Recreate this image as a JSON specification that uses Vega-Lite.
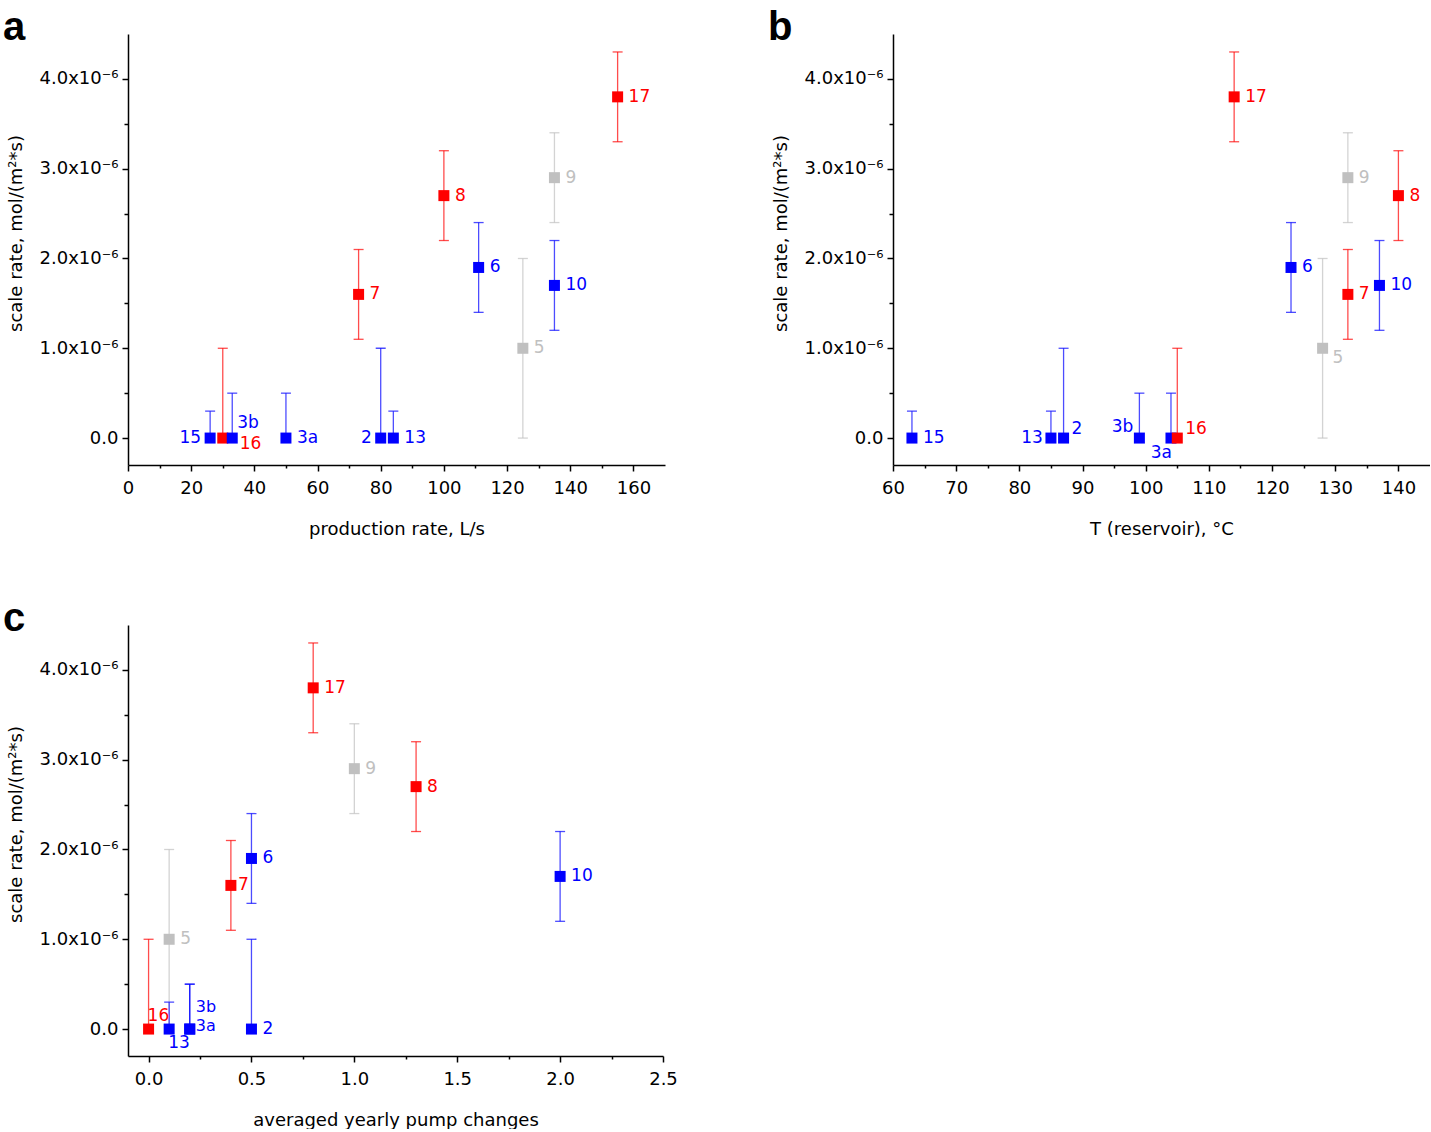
{
  "$schema": "https://vega.github.io/schema/vega-lite/v6.json",
  "padding": {"left": 3, "top": 8, "right": 0, "bottom": 0},
  "background": "white",
  "config": {
    "view": {"stroke": null},
    "font": "DejaVu Sans",
    "axis": {"grid": false, "domainColor": "black", "domainWidth": 1.5, "tickColor": "black", "tickWidth": 1.5, "tickSize": 6, "labelFont": "DejaVu Sans", "titleFont": "DejaVu Sans", "labelFontSize": 18, "titleFontSize": 18, "titleFontWeight": "normal", "labelColor": "black", "titleColor": "black", "labelPadding": 4, "labelFlush": false, "labelOverlap": false},
    "axisX": {"titlePadding": 23, "labelPadding": 8},
    "axisY": {"titlePadding": 14, "titleY": 199},
    "title": {"font": "Liberation Sans", "fontSize": 40, "fontWeight": "bold", "color": "black", "anchor": "start", "frame": "bounds", "offset": -14, "dx": -4}
  },
  "datasets": {
    "a": [
      {"id": "15", "x": 26, "y": 0, "lo": 0, "hi": 3e-7, "cls": "blue"},
      {"id": "16", "x": 30, "y": 0, "lo": 0, "hi": 1e-6, "cls": "red"},
      {"id": "3b", "x": 33, "y": 0, "lo": 0, "hi": 5e-7, "cls": "blue"},
      {"id": "3a", "x": 50, "y": 0, "lo": 0, "hi": 5e-7, "cls": "blue"},
      {"id": "2", "x": 80, "y": 0, "lo": 0, "hi": 1e-6, "cls": "blue"},
      {"id": "13", "x": 84, "y": 0, "lo": 0, "hi": 3e-7, "cls": "blue"},
      {"id": "7", "x": 73, "y": 1.6e-6, "lo": 1.1e-6, "hi": 2.1e-6, "cls": "red"},
      {"id": "8", "x": 100, "y": 2.7e-6, "lo": 2.2e-6, "hi": 3.2e-6, "cls": "red"},
      {"id": "6", "x": 111, "y": 1.9e-6, "lo": 1.4e-6, "hi": 2.4e-6, "cls": "blue"},
      {"id": "5", "x": 125, "y": 1.0e-6, "lo": 0, "hi": 2.0e-6, "cls": "grey"},
      {"id": "10", "x": 135, "y": 1.7e-6, "lo": 1.2e-6, "hi": 2.2e-6, "cls": "blue"},
      {"id": "9", "x": 135, "y": 2.9e-6, "lo": 2.4e-6, "hi": 3.4e-6, "cls": "grey"},
      {"id": "17", "x": 155, "y": 3.8e-6, "lo": 3.3e-6, "hi": 4.3e-6, "cls": "red"}
    ],
    "b": [
      {"id": "15", "x": 63, "y": 0, "lo": 0, "hi": 3e-7, "cls": "blue"},
      {"id": "13", "x": 85, "y": 0, "lo": 0, "hi": 3e-7, "cls": "blue"},
      {"id": "2", "x": 87, "y": 0, "lo": 0, "hi": 1e-6, "cls": "blue"},
      {"id": "3b", "x": 99, "y": 0, "lo": 0, "hi": 5e-7, "cls": "blue"},
      {"id": "3a", "x": 104, "y": 0, "lo": 0, "hi": 5e-7, "cls": "blue"},
      {"id": "16", "x": 105, "y": 0, "lo": 0, "hi": 1e-6, "cls": "red"},
      {"id": "17", "x": 114, "y": 3.8e-6, "lo": 3.3e-6, "hi": 4.3e-6, "cls": "red"},
      {"id": "6", "x": 123, "y": 1.9e-6, "lo": 1.4e-6, "hi": 2.4e-6, "cls": "blue"},
      {"id": "5", "x": 128, "y": 1.0e-6, "lo": 0, "hi": 2.0e-6, "cls": "grey"},
      {"id": "9", "x": 132, "y": 2.9e-6, "lo": 2.4e-6, "hi": 3.4e-6, "cls": "grey"},
      {"id": "7", "x": 132, "y": 1.6e-6, "lo": 1.1e-6, "hi": 2.1e-6, "cls": "red"},
      {"id": "10", "x": 137, "y": 1.7e-6, "lo": 1.2e-6, "hi": 2.2e-6, "cls": "blue"},
      {"id": "8", "x": 140, "y": 2.7e-6, "lo": 2.2e-6, "hi": 3.2e-6, "cls": "red"}
    ],
    "c": [
      {"id": "5", "x": 0.1, "y": 1.0e-6, "lo": 0, "hi": 2.0e-6, "cls": "grey"},
      {"id": "16", "x": 0.0, "y": 0, "lo": 0, "hi": 1e-6, "cls": "red"},
      {"id": "13", "x": 0.1, "y": 0, "lo": 0, "hi": 3e-7, "cls": "blue"},
      {"id": "3a", "x": 0.2, "y": 0, "lo": 0, "hi": 5e-7, "cls": "blue"},
      {"id": "3b", "x": 0.2, "y": 0, "lo": 0, "hi": 5e-7, "cls": "blue"},
      {"id": "2", "x": 0.5, "y": 0, "lo": 0, "hi": 1e-6, "cls": "blue"},
      {"id": "6", "x": 0.5, "y": 1.9e-6, "lo": 1.4e-6, "hi": 2.4e-6, "cls": "blue"},
      {"id": "7", "x": 0.4, "y": 1.6e-6, "lo": 1.1e-6, "hi": 2.1e-6, "cls": "red"},
      {"id": "17", "x": 0.8, "y": 3.8e-6, "lo": 3.3e-6, "hi": 4.3e-6, "cls": "red"},
      {"id": "9", "x": 1.0, "y": 2.9e-6, "lo": 2.4e-6, "hi": 3.4e-6, "cls": "grey"},
      {"id": "8", "x": 1.3, "y": 2.7e-6, "lo": 2.2e-6, "hi": 3.2e-6, "cls": "red"},
      {"id": "10", "x": 2.0, "y": 1.7e-6, "lo": 1.2e-6, "hi": 2.2e-6, "cls": "blue"}
    ]
  },
  "spacing": 61,
  "vconcat": [
    {
      "spacing": 103,
      "hconcat": [
        {
          "width": 537, "height": 431,
          "title": {"text": "a"},
          "data": {"name": "a"},
          "encoding": {
            "x": {"field": "x", "type": "quantitative", "scale": {"domain": [0, 170], "nice": false, "zero": false}, "axis": {"title": "production rate, L/s", "values": [0, 10, 20, 30, 40, 50, 60, 70, 80, 90, 100, 110, 120, 130, 140, 150, 160], "labelExpr": "datum.value % 20 == 0 ? format(datum.value, 'd') : ''", "tickSize": {"condition": {"test": "datum.value % 20 == 0", "value": 6}, "value": 3}}},
            "color": {"field": "cls", "type": "nominal", "scale": {"domain": ["red", "blue", "grey"], "range": ["#FF0000", "#0000FF", "#C0C0C0"]}, "legend": null}
          },
          "layer": [
            {"mark": {"type": "rule", "strokeWidth": 1.3, "opacity": 0.7}, "encoding": {"y": {"field": "lo", "type": "quantitative", "scale": {"domain": [-3e-7, 4.5e-6], "nice": false, "zero": false}, "axis": {"title": "scale rate, mol/(m²*s)", "values": [0, 5e-7, 1e-6, 1.5e-6, 2e-6, 2.5e-6, 3e-6, 3.5e-6, 4e-6], "labelExpr": "abs(datum.value*1e6 - round(datum.value*1e6)) > 0.01 ? '' : (abs(datum.value) < 1e-12 ? '0.0' : format(datum.value*1e6, '.1f') + 'x10⁻⁶')", "tickSize": {"condition": {"test": "abs(datum.value*1e6 - round(datum.value*1e6)) > 0.01", "value": 4}, "value": 6}}}, "y2": {"field": "hi"}}},
            {"mark": {"type": "tick", "orient": "horizontal", "size": 10, "thickness": 1.3, "opacity": 0.7}, "encoding": {"y": {"field": "hi", "type": "quantitative"}}},
            {"transform": [{"filter": "datum.y > 0"}], "mark": {"type": "tick", "orient": "horizontal", "size": 10, "thickness": 1.3, "opacity": 0.7}, "encoding": {"y": {"field": "lo", "type": "quantitative"}}},
            {"mark": {"type": "square", "filled": true, "size": 121, "opacity": 1}, "encoding": {"y": {"field": "y", "type": "quantitative"}}},
            {"transform": [{"filter": {"field": "id", "oneOf": ["3a", "13", "7", "8", "6", "5", "10", "9", "17"]}}], "mark": {"type": "text", "align": "left", "baseline": "middle", "dx": 11, "fontSize": 17}, "encoding": {"y": {"field": "y", "type": "quantitative"}, "text": {"field": "id"}}},
            {"transform": [{"filter": {"field": "id", "oneOf": ["15", "2"]}}], "mark": {"type": "text", "align": "right", "baseline": "middle", "dx": -9, "fontSize": 17}, "encoding": {"y": {"field": "y", "type": "quantitative"}, "text": {"field": "id"}}},
            {"transform": [{"filter": {"field": "id", "oneOf": ["16"]}}], "mark": {"type": "text", "align": "left", "baseline": "middle", "dx": 17, "dy": 6, "fontSize": 17}, "encoding": {"y": {"field": "y", "type": "quantitative"}, "text": {"field": "id"}}},
            {"transform": [{"filter": {"field": "id", "oneOf": ["3b"]}}], "mark": {"type": "text", "align": "left", "baseline": "middle", "dx": 5, "dy": -15, "fontSize": 17}, "encoding": {"y": {"field": "y", "type": "quantitative"}, "text": {"field": "id"}}}
          ]
        },
        {
          "width": 537, "height": 431,
          "title": {"text": "b"},
          "data": {"name": "b"},
          "encoding": {
            "x": {"field": "x", "type": "quantitative", "scale": {"domain": [60, 145], "nice": false, "zero": false}, "axis": {"title": "T (reservoir), °C", "values": [60, 65, 70, 75, 80, 85, 90, 95, 100, 105, 110, 115, 120, 125, 130, 135, 140], "labelExpr": "datum.value % 10 == 0 ? format(datum.value, 'd') : ''", "tickSize": {"condition": {"test": "datum.value % 10 == 0", "value": 6}, "value": 3}}},
            "color": {"field": "cls", "type": "nominal", "scale": {"domain": ["red", "blue", "grey"], "range": ["#FF0000", "#0000FF", "#C0C0C0"]}, "legend": null}
          },
          "layer": [
            {"mark": {"type": "rule", "strokeWidth": 1.3, "opacity": 0.7}, "encoding": {"y": {"field": "lo", "type": "quantitative", "scale": {"domain": [-3e-7, 4.5e-6], "nice": false, "zero": false}, "axis": {"title": "scale rate, mol/(m²*s)", "values": [0, 5e-7, 1e-6, 1.5e-6, 2e-6, 2.5e-6, 3e-6, 3.5e-6, 4e-6], "labelExpr": "abs(datum.value*1e6 - round(datum.value*1e6)) > 0.01 ? '' : (abs(datum.value) < 1e-12 ? '0.0' : format(datum.value*1e6, '.1f') + 'x10⁻⁶')", "tickSize": {"condition": {"test": "abs(datum.value*1e6 - round(datum.value*1e6)) > 0.01", "value": 4}, "value": 6}}}, "y2": {"field": "hi"}}},
            {"mark": {"type": "tick", "orient": "horizontal", "size": 10, "thickness": 1.3, "opacity": 0.7}, "encoding": {"y": {"field": "hi", "type": "quantitative"}}},
            {"transform": [{"filter": "datum.y > 0"}], "mark": {"type": "tick", "orient": "horizontal", "size": 10, "thickness": 1.3, "opacity": 0.7}, "encoding": {"y": {"field": "lo", "type": "quantitative"}}},
            {"mark": {"type": "square", "filled": true, "size": 121, "opacity": 1}, "encoding": {"y": {"field": "y", "type": "quantitative"}}},
            {"transform": [{"filter": {"field": "id", "oneOf": ["15", "17", "6", "9", "7", "10", "8"]}}], "mark": {"type": "text", "align": "left", "baseline": "middle", "dx": 11, "fontSize": 17}, "encoding": {"y": {"field": "y", "type": "quantitative"}, "text": {"field": "id"}}},
            {"transform": [{"filter": {"field": "id", "oneOf": ["13"]}}], "mark": {"type": "text", "align": "right", "baseline": "middle", "dx": -8, "fontSize": 17}, "encoding": {"y": {"field": "y", "type": "quantitative"}, "text": {"field": "id"}}},
            {"transform": [{"filter": {"field": "id", "oneOf": ["2", "16"]}}], "mark": {"type": "text", "align": "left", "baseline": "middle", "dx": 8, "dy": -9, "fontSize": 17}, "encoding": {"y": {"field": "y", "type": "quantitative"}, "text": {"field": "id"}}},
            {"transform": [{"filter": {"field": "id", "oneOf": ["3b"]}}], "mark": {"type": "text", "align": "right", "baseline": "middle", "dx": -6, "dy": -11, "fontSize": 17}, "encoding": {"y": {"field": "y", "type": "quantitative"}, "text": {"field": "id"}}},
            {"transform": [{"filter": {"field": "id", "oneOf": ["3a"]}}], "mark": {"type": "text", "align": "right", "baseline": "middle", "dx": 1, "dy": 15, "fontSize": 17}, "encoding": {"y": {"field": "y", "type": "quantitative"}, "text": {"field": "id"}}},
            {"transform": [{"filter": {"field": "id", "oneOf": ["5"]}}], "mark": {"type": "text", "align": "left", "baseline": "middle", "dx": 10, "dy": 10, "fontSize": 17}, "encoding": {"y": {"field": "y", "type": "quantitative"}, "text": {"field": "id"}}}
          ]
        }
      ]
    },
    {
      "width": 535, "height": 431,
      "title": {"text": "c"},
      "data": {"name": "c"},
      "encoding": {
        "x": {"field": "x", "type": "quantitative", "scale": {"domain": [-0.1, 2.5], "nice": false, "zero": false}, "axis": {"title": "averaged yearly pump changes", "values": [0, 0.25, 0.5, 0.75, 1, 1.25, 1.5, 1.75, 2, 2.25, 2.5], "labelExpr": "abs(datum.value*2 - round(datum.value*2)) > 0.01 ? '' : format(datum.value, '.1f')", "tickSize": {"condition": {"test": "abs(datum.value*2 - round(datum.value*2)) > 0.01", "value": 3}, "value": 6}}},
        "color": {"field": "cls", "type": "nominal", "scale": {"domain": ["red", "blue", "grey"], "range": ["#FF0000", "#0000FF", "#C0C0C0"]}, "legend": null}
      },
      "layer": [
        {"mark": {"type": "rule", "strokeWidth": 1.3, "opacity": 0.7}, "encoding": {"y": {"field": "lo", "type": "quantitative", "scale": {"domain": [-3e-7, 4.5e-6], "nice": false, "zero": false}, "axis": {"title": "scale rate, mol/(m²*s)", "values": [0, 5e-7, 1e-6, 1.5e-6, 2e-6, 2.5e-6, 3e-6, 3.5e-6, 4e-6], "labelExpr": "abs(datum.value*1e6 - round(datum.value*1e6)) > 0.01 ? '' : (abs(datum.value) < 1e-12 ? '0.0' : format(datum.value*1e6, '.1f') + 'x10⁻⁶')", "tickSize": {"condition": {"test": "abs(datum.value*1e6 - round(datum.value*1e6)) > 0.01", "value": 4}, "value": 6}}}, "y2": {"field": "hi"}}},
        {"mark": {"type": "tick", "orient": "horizontal", "size": 10, "thickness": 1.3, "opacity": 0.7}, "encoding": {"y": {"field": "hi", "type": "quantitative"}}},
        {"transform": [{"filter": "datum.y > 0"}], "mark": {"type": "tick", "orient": "horizontal", "size": 10, "thickness": 1.3, "opacity": 0.7}, "encoding": {"y": {"field": "lo", "type": "quantitative"}}},
        {"mark": {"type": "square", "filled": true, "size": 121, "opacity": 1}, "encoding": {"y": {"field": "y", "type": "quantitative"}}},
        {"transform": [{"filter": {"field": "id", "oneOf": ["5", "2", "6", "17", "9", "8", "10"]}}], "mark": {"type": "text", "align": "left", "baseline": "middle", "dx": 11, "fontSize": 17}, "encoding": {"y": {"field": "y", "type": "quantitative"}, "text": {"field": "id"}}},
        {"transform": [{"filter": {"field": "id", "oneOf": ["7"]}}], "mark": {"type": "text", "align": "left", "baseline": "middle", "dx": 7, "fontSize": 17}, "encoding": {"y": {"field": "y", "type": "quantitative"}, "text": {"field": "id"}}},
        {"transform": [{"filter": {"field": "id", "oneOf": ["16"]}}], "mark": {"type": "text", "align": "left", "baseline": "middle", "dx": -1, "dy": -13, "fontSize": 17}, "encoding": {"y": {"field": "y", "type": "quantitative"}, "text": {"field": "id"}}},
        {"transform": [{"filter": {"field": "id", "oneOf": ["13"]}}], "mark": {"type": "text", "align": "left", "baseline": "middle", "dx": -1, "dy": 14, "fontSize": 17}, "encoding": {"y": {"field": "y", "type": "quantitative"}, "text": {"field": "id"}}},
        {"transform": [{"filter": {"field": "id", "oneOf": ["3b"]}}], "mark": {"type": "text", "align": "left", "baseline": "middle", "dx": 6, "dy": -22, "fontSize": 16}, "encoding": {"y": {"field": "y", "type": "quantitative"}, "text": {"field": "id"}}},
        {"transform": [{"filter": {"field": "id", "oneOf": ["3a"]}}], "mark": {"type": "text", "align": "left", "baseline": "middle", "dx": 6, "dy": -3, "fontSize": 16}, "encoding": {"y": {"field": "y", "type": "quantitative"}, "text": {"field": "id"}}}
      ]
    }
  ]
}
